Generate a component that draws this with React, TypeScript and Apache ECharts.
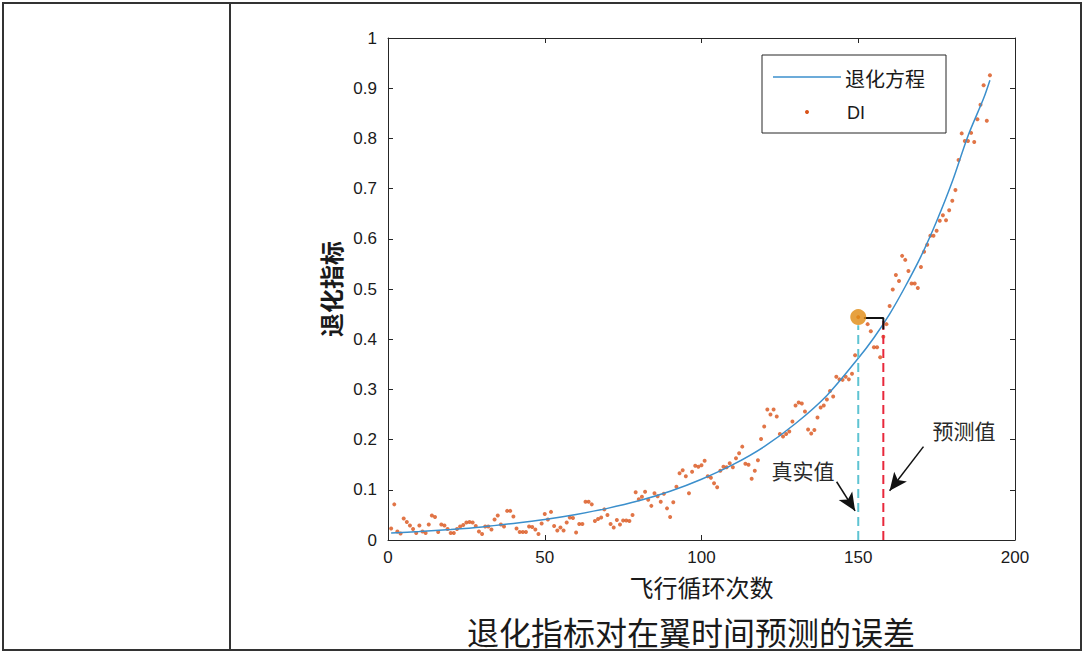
import React, { useEffect, useRef } from "react";
import * as echarts from "echarts";

// Tick values
const X_TICKS = [0, 50, 100, 150, 200];
const Y_MIN = 0;
const Y_MAX = 1;

// Degradation equation curve
const CURVE: [number, number][] = [
  [1, 0.014], [10, 0.017], [20, 0.021], [30, 0.026], [40, 0.033], [50, 0.041],
  [60, 0.051], [70, 0.063], [80, 0.078], [90, 0.097], [100, 0.121], [110, 0.150],
  [120, 0.186], [130, 0.232], [140, 0.288], [150, 0.362], [155, 0.403], [160, 0.450],
  [165, 0.505], [170, 0.565], [175, 0.635], [180, 0.714], [185, 0.805], [190, 0.880], [192, 0.916],
];

// DI observations (cycle, value)
const DI: [number, number][] = [
  [1, 0.023], [2, 0.071], [3, 0.017], [4, 0.013], [5, 0.043], [6, 0.036], [7, 0.029], [8, 0.022],
  [9, 0.014], [10, 0.029], [11, 0.017], [12, 0.014], [13, 0.031], [14, 0.049], [15, 0.046], [16, 0.016],
  [17, 0.031], [18, 0.029], [19, 0.022], [20, 0.014], [21, 0.014], [22, 0.022], [23, 0.027], [24, 0.030],
  [25, 0.035], [26, 0.036], [27, 0.035], [28, 0.028], [29, 0.017], [30, 0.012], [31, 0.027], [32, 0.027],
  [33, 0.021], [34, 0.041], [35, 0.049], [36, 0.031], [37, 0.027], [38, 0.058], [39, 0.058], [40, 0.047],
  [41, 0.023], [42, 0.016], [43, 0.016], [44, 0.016], [45, 0.027], [46, 0.026], [47, 0.021], [48, 0.012],
  [49, 0.033], [50, 0.052], [51, 0.041], [52, 0.056], [53, 0.028], [54, 0.019], [55, 0.025], [56, 0.019],
  [57, 0.035], [58, 0.045], [59, 0.044], [60, 0.015], [61, 0.032], [62, 0.032], [63, 0.076], [64, 0.076],
  [65, 0.071], [66, 0.038], [67, 0.042], [68, 0.045], [69, 0.061], [70, 0.050], [71, 0.032], [72, 0.025],
  [73, 0.040], [74, 0.031], [75, 0.039], [76, 0.039], [77, 0.038], [78, 0.050], [79, 0.095], [80, 0.081],
  [81, 0.086], [82, 0.096], [83, 0.080], [84, 0.068], [85, 0.093], [86, 0.087], [87, 0.076], [88, 0.092],
  [89, 0.063], [90, 0.046], [91, 0.075], [92, 0.106], [93, 0.133], [94, 0.139], [95, 0.127], [96, 0.093],
  [97, 0.136], [98, 0.148], [99, 0.146], [100, 0.149], [101, 0.158], [102, 0.127], [103, 0.124], [104, 0.113],
  [105, 0.105], [106, 0.138], [107, 0.146], [108, 0.145], [109, 0.153], [110, 0.145], [111, 0.163], [112, 0.173],
  [113, 0.186], [114, 0.152], [115, 0.150], [116, 0.122], [117, 0.138], [118, 0.159], [119, 0.201], [120, 0.226],
  [121, 0.260], [122, 0.250], [123, 0.260], [124, 0.246], [125, 0.211], [126, 0.206], [127, 0.211], [128, 0.216],
  [129, 0.236], [130, 0.268], [131, 0.274], [132, 0.272], [133, 0.256], [134, 0.220], [135, 0.212], [136, 0.219],
  [137, 0.244], [138, 0.264], [139, 0.268], [140, 0.280], [141, 0.297], [142, 0.286], [143, 0.325], [144, 0.320],
  [145, 0.319], [146, 0.325], [147, 0.320], [148, 0.331], [149, 0.368], [150, 0.444], [153, 0.430], [154, 0.416],
  [155, 0.384], [156, 0.384], [157, 0.364], [158, 0.405], [159, 0.430], [160, 0.466], [161, 0.499], [162, 0.528],
  [163, 0.516], [164, 0.566], [165, 0.558], [166, 0.536], [167, 0.511], [168, 0.511], [169, 0.502], [170, 0.544],
  [171, 0.574], [172, 0.588], [173, 0.606], [174, 0.606], [175, 0.616], [176, 0.636], [177, 0.647], [178, 0.637],
  [179, 0.657], [180, 0.676], [181, 0.697], [182, 0.757], [183, 0.810], [184, 0.795], [185, 0.795], [186, 0.811],
  [187, 0.793], [188, 0.838], [189, 0.867], [190, 0.906], [191, 0.835], [192, 0.926],
];

// Annotations
const TRUE_POINT: [number, number] = [150, 0.444];
const TRUE_LINE: [number, number][] = [[150, 0], [150, 0.428]];
const PRED_LINE: [number, number][] = [[158, 0], [158, 0.44]];
const ERROR_BAR: [number, number][] = [[151.8, 0.442], [158, 0.442], [158, 0.42]];
const TRUE_ARROW: [number, number][] = [[143.1, 0.116], [149, 0.058]];
const PRED_ARROW: [number, number][] = [[170.8, 0.186], [160, 0.098]];

const LEGEND_NAMES = ["退化方程", "DI"];
const X_NAME = "飞行循环次数";
const Y_NAME = "退化指标";
const CAPTION = "退化指标对在翼时间预测的误差";
const TRUE_LABEL = "真实值";
const PRED_LABEL = "预测值";

const BLUE = "#3b8fcc";
const ORANGE = "#d95319";
const AXIS = "#262626";
const FONT = "'Liberation Sans', Arial, sans-serif";
const CJK = "'Noto Sans CJK SC', sans-serif";

export default function App() {
  const ref = useRef<HTMLDivElement>(null);
  useEffect(() => {
    if (!ref.current) return;
    const chart = echarts.init(ref.current, null, { renderer: "svg" });
    const axisCommon = {
      axisLine: { show: true, onZero: false, lineStyle: { color: AXIS, width: 1 } },
      axisTick: { show: true, inside: true, length: 5, lineStyle: { color: AXIS } },
      splitLine: { show: false },
    };
    chart.setOption({
      animation: false,
      backgroundColor: "#ffffff",
      grid: { left: 388, top: 38, right: 69, bottom: 113, containLabel: false },
      xAxis: [
        {
          type: "value", min: X_TICKS[0], max: X_TICKS[X_TICKS.length - 1], interval: 50,
          position: "bottom", ...axisCommon,
          axisLabel: { color: "#1a1a1a", fontSize: 17, fontFamily: FONT, margin: 9 },
          name: X_NAME, nameLocation: "middle", nameGap: 34,
          nameTextStyle: { fontSize: 24, color: "#1a1a1a", fontFamily: CJK },
        },
        {
          type: "value", min: X_TICKS[0], max: X_TICKS[X_TICKS.length - 1], interval: 50,
          position: "top", ...axisCommon, axisLabel: { show: false },
        },
      ],
      yAxis: [
        {
          type: "value", min: Y_MIN, max: Y_MAX, interval: 0.1, position: "left", ...axisCommon,
          axisLabel: { color: "#1a1a1a", fontSize: 17, fontFamily: FONT, margin: 11 },
          name: Y_NAME, nameLocation: "middle", nameGap: 45,
          nameTextStyle: { fontSize: 24, color: "#1a1a1a", fontFamily: CJK, fontWeight: "bold" },
        },
        {
          type: "value", min: Y_MIN, max: Y_MAX, interval: 0.1, position: "right", ...axisCommon,
          axisLabel: { show: false },
        },
      ],
      series: [
        {
          name: LEGEND_NAMES[1], type: "scatter", data: DI, symbol: "circle", symbolSize: 4,
          itemStyle: { color: ORANGE }, z: 2,
        },
        {
          name: LEGEND_NAMES[0], type: "line", data: CURVE, smooth: 0.3, showSymbol: false,
          lineStyle: { color: BLUE, width: 1.5 }, z: 3,
        },
        {
          type: "line", data: TRUE_LINE, showSymbol: false,
          lineStyle: { color: "#5ec3d2", width: 2, type: [9, 5] }, z: 4,
        },
        {
          type: "line", data: PRED_LINE, showSymbol: false,
          lineStyle: { color: "#e8283c", width: 2, type: [9, 5] }, z: 4,
        },
        {
          type: "line", data: ERROR_BAR, showSymbol: false,
          lineStyle: { color: "#111", width: 2 }, z: 4,
        },
        {
          type: "scatter", data: [TRUE_POINT], symbolSize: 16,
          itemStyle: { color: "#e08a10" }, z: 5,
        },
        {
          type: "line", data: [], z: 6,
          markLine: {
            silent: true, symbol: ["none", "arrow"], symbolSize: [12, 18],
            label: { show: false },
            lineStyle: { color: "#111", width: 1.5, type: "solid" },
            data: [
              [{ coord: TRUE_ARROW[0] }, { coord: TRUE_ARROW[1] }],
              [{ coord: PRED_ARROW[0] }, { coord: PRED_ARROW[1] }],
            ],
          },
        },
      ],
      graphic: [
        { type: "rect", shape: { x: 3, y: 3, width: 1078, height: 647 }, style: { fill: "none", stroke: "#333", lineWidth: 2 } },
        { type: "line", shape: { x1: 230, y1: 3, x2: 230, y2: 650 }, style: { stroke: "#333", lineWidth: 2 } },
        // legend
        { type: "rect", shape: { x: 762, y: 55, width: 184, height: 78 }, style: { fill: "#fff", stroke: AXIS, lineWidth: 1 }, z: 10 },
        { type: "line", shape: { x1: 773, y1: 77, x2: 841, y2: 77 }, style: { stroke: BLUE, lineWidth: 1.5 }, z: 11 },
        { type: "text", x: 845, y: 78, style: { text: LEGEND_NAMES[0], font: `20px ${CJK}`, fill: "#1a1a1a", textVerticalAlign: "middle" }, z: 11 },
        { type: "circle", shape: { cx: 807, cy: 112, r: 2 }, style: { fill: ORANGE }, z: 11 },
        { type: "text", x: 847, y: 113, style: { text: LEGEND_NAMES[1], font: `18px ${FONT}`, fill: "#1a1a1a", textVerticalAlign: "middle" }, z: 11 },
        // annotation labels
        { type: "text", x: 803, y: 470, style: { text: TRUE_LABEL, font: `21px ${CJK}`, fill: "#2a2a2a", textAlign: "center", textVerticalAlign: "middle" }, z: 11 },
        { type: "text", x: 964, y: 430, style: { text: PRED_LABEL, font: `21px ${CJK}`, fill: "#2a2a2a", textAlign: "center", textVerticalAlign: "middle" }, z: 11 },
        // caption
        { type: "text", x: 691, y: 631, style: { text: CAPTION, font: `32px ${CJK}`, fill: "#1a1a1a", textAlign: "center", textVerticalAlign: "middle" }, z: 11 },
      ],
    });
    return () => chart.dispose();
  }, []);
  return <div ref={ref} style={{ position: "fixed", left: 0, top: 0, width: 1084, height: 653 }} />;
}
